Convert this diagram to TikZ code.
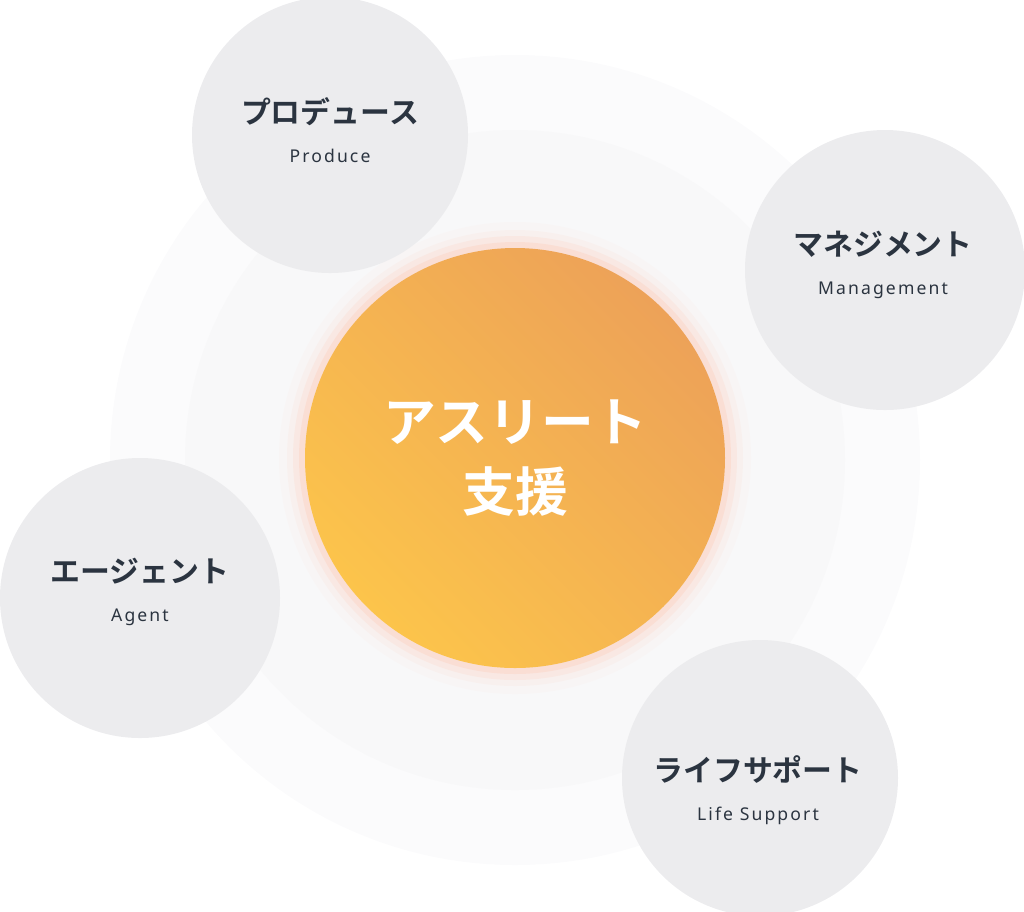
\documentclass[tikz,border=0pt]{standalone}
\usepackage{fontspec}
\newfontfamily\jpfont{Noto Sans CJK JP Bold}
\newfontfamily\enfont[LetterSpace=12]{Noto Sans}
\usetikzlibrary{shadings}
\definecolor{navy}{HTML}{2B3440}
\definecolor{bubble}{HTML}{ECECEE}
\definecolor{orangeA}{HTML}{EDA258}
\definecolor{orangeB}{HTML}{FCC44B}

\begin{document}
\begin{tikzpicture}[x=0.01cm,y=-0.01cm]
\tikzset{label/.style={text=navy,align=center,font=\jpfont\fontsize{8.5}{12}\selectfont}}
\newcommand{\sub}[1]{{\enfont\fontsize{5}{7}\selectfont #1}}

\useasboundingbox (0,0) rectangle (1024,911);

% faint background disc
\fill[white!60!bubble!50] (515,460) circle (405);
\fill[white!40!bubble!60] (515,460) circle (330);

% glow
\foreach \r/\o in {236/0.05,228/0.1,222/0.18,216/0.3}
  \fill[orange!60!red!30,opacity=\o] (515,458) circle (\r);

% centre
\shade[left color=orangeA,right color=orangeB,shading angle=-45] (515,458) circle (210);
\node[text=white,font=\jpfont\fontsize{15}{20}\selectfont,align=center] (core) at (515,458) {アスリート\\支援};

% bubbles
\fill[bubble] (330,135) circle (138);
\fill[bubble] (885,270) circle (140);
\fill[bubble] (140,598) circle (140);
\fill[bubble] (760,778) circle (138);

\node[label] (prod) at (330,130) {プロデュース\\[-1pt]\sub{Produce}};
\node[label] (mgmt) at (883,265) {マネジメント\\[-1pt]\sub{Management}};
\node[label] (agent) at (140,592) {エージェント\\[-1pt]\sub{Agent}};
\node[label] (life) at (758,790) {ライフサポート\\[-1pt]\sub{Life Support}};
\end{tikzpicture}
\end{document}
